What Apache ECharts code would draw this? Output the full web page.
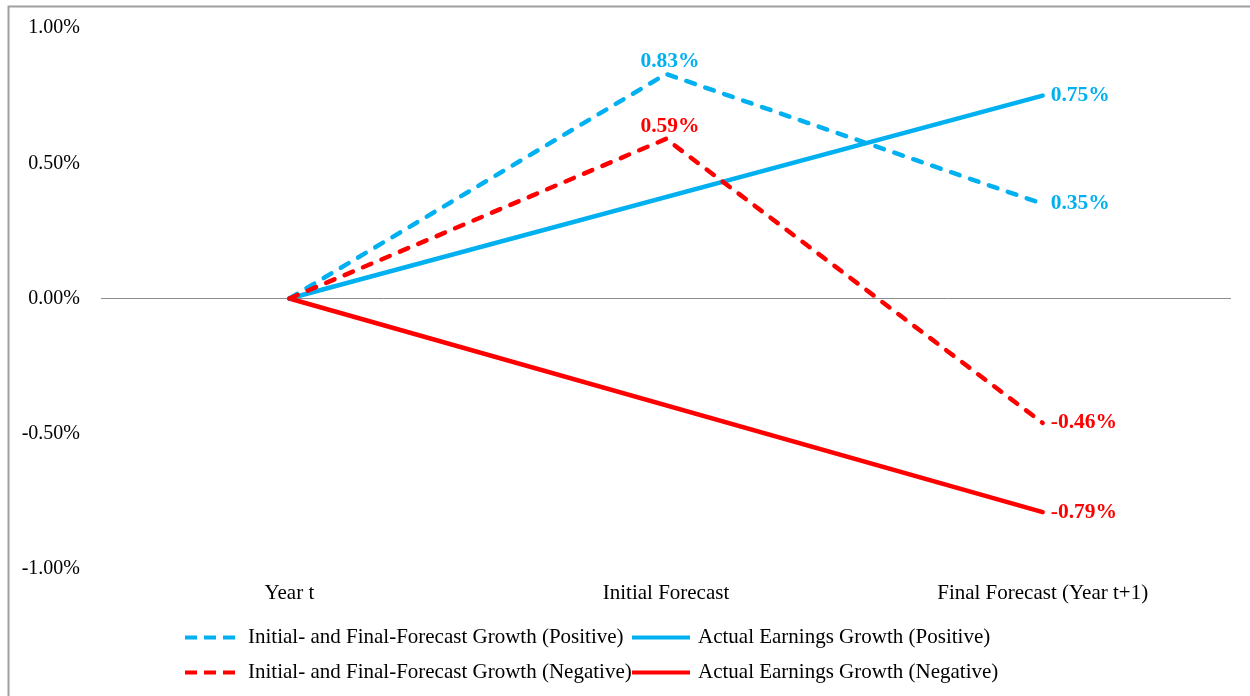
<!DOCTYPE html>
<html>
<head>
<meta charset="utf-8">
<script src="https://cdn.jsdelivr.net/npm/echarts@6/dist/echarts.min.js"></script>
<style>
  html, body { margin: 0; padding: 0; background: #fff; }
  #chart { width: 1250px; height: 696px; }
</style>
</head>
<body>
<div id="chart"></div>
<script>
const categories = ["Year t", "Initial Forecast", "Final Forecast (Year t+1)"];

// values in percent
const forecastPositive = [0, 0.83, 0.35];
const actualPositive = [0, null, 0.75];
const forecastNegative = [0, 0.59, -0.46];
const actualNegative = [0, null, -0.79];

const seriesNames = [
  "Initial- and Final-Forecast Growth (Positive)",
  "Actual Earnings Growth (Positive)",
  "Initial- and Final-Forecast Growth (Negative)",
  "Actual Earnings Growth (Negative)"
];

const BLUE = "#00b0f0";
const RED = "#ff0000";
const FONT = "'Liberation Serif', 'Times New Roman', serif";

const fmt = v => v.toFixed(2) + "%";

// label only on points that show a value, placed as in the picture
function withLabels(values, color, positions) {
  return values.map((v, i) => {
    if (v === null || !positions[i]) return v;
    return {
      value: v,
      label: {
        show: true,
        position: positions[i],
        distance: positions[i] === "right" ? 8 : 1,
        offset: positions[i] === "top" ? [4, 0] : [0, 0],
        formatter: p => fmt(p.value),
        color: color,
        fontFamily: FONT,
        fontSize: 21.5,
        fontWeight: "bold"
      }
    };
  });
}

function lineSeries(name, values, color, dashed, positions) {
  return {
    name: name,
    type: "line",
    data: withLabels(values, color, positions),
    connectNulls: true,
    symbol: "circle",
    symbolSize: 0.1,
    showSymbol: true,
    silent: true,
    z: dashed ? 3 : 2,
    lineStyle: {
      color: color,
      width: 4.5,
      type: dashed ? [9, 11] : "solid",
      cap: "round"
    },
    itemStyle: { color: color }
  };
}

const chart = echarts.init(document.getElementById("chart"));

const DASH_ICON = "path://M0,0h12v4h-12zM19,0h12v4h-12zM38,0h12v4h-12z";
const SOLID_ICON = "path://M0,0h58v4h-58z";

function legendFor(name, dashed, left, top) {
  return {
    data: [{ name: name, icon: dashed ? DASH_ICON : SOLID_ICON }],
    left: left,
    top: top,
    itemWidth: dashed ? 50 : 58,
    itemHeight: 4,
    itemGap: 0,
    padding: 0,
    textStyle: {
      fontFamily: FONT,
      fontSize: 21,
      color: "#000",
      padding: [0, 0, 0, dashed ? 8 : 3]
    }
  };
}

const series = [
  lineSeries(seriesNames[0], forecastPositive, BLUE, true, [null, "top", "right"]),
  lineSeries(seriesNames[1], actualPositive, BLUE, false, [null, null, "right"]),
  lineSeries(seriesNames[2], forecastNegative, RED, true, [null, "top", "right"]),
  lineSeries(seriesNames[3], actualNegative, RED, false, [null, null, "right"])
];

// zero line across the plot
series[0].markLine = {
  silent: true,
  symbol: "none",
  label: { show: false },
  lineStyle: { color: "#8c8c8c", width: 1, type: "solid" },
  data: [{ yAxis: 0 }],
  z: 1
};

chart.setOption({
  animation: false,
  backgroundColor: "#fff",
  textStyle: { fontFamily: FONT },
  grid: { left: 101, right: 19, top: 28, bottom: 127 },
  xAxis: {
    type: "category",
    data: categories,
    boundaryGap: true,
    axisLine: { show: false, onZero: false },
    axisTick: { show: false },
    axisLabel: { fontFamily: FONT, fontSize: 21, color: "#000", margin: 14 },
    splitLine: { show: false }
  },
  yAxis: {
    type: "value",
    min: -1,
    max: 1,
    interval: 0.5,
    axisLine: { show: false },
    axisTick: { show: false },
    splitLine: { show: false },
    axisLabel: {
      fontFamily: FONT,
      fontSize: 20,
      color: "#000",
      margin: 21,
      formatter: v => fmt(v)
    }
  },
  legend: [
    legendFor(seriesNames[0], true, 185, 627),
    legendFor(seriesNames[1], false, 632, 627),
    legendFor(seriesNames[2], true, 185, 662),
    legendFor(seriesNames[3], false, 632, 662)
  ],
  graphic: [{
    type: "rect",
    left: 6,
    top: 4,
    shape: { width: 1270, height: 720 },
    style: { fill: null, stroke: "#a0a0a0", lineWidth: 2 },
    silent: true,
    z: 100
  }],
  series: series
});
</script>
</body>
</html>
